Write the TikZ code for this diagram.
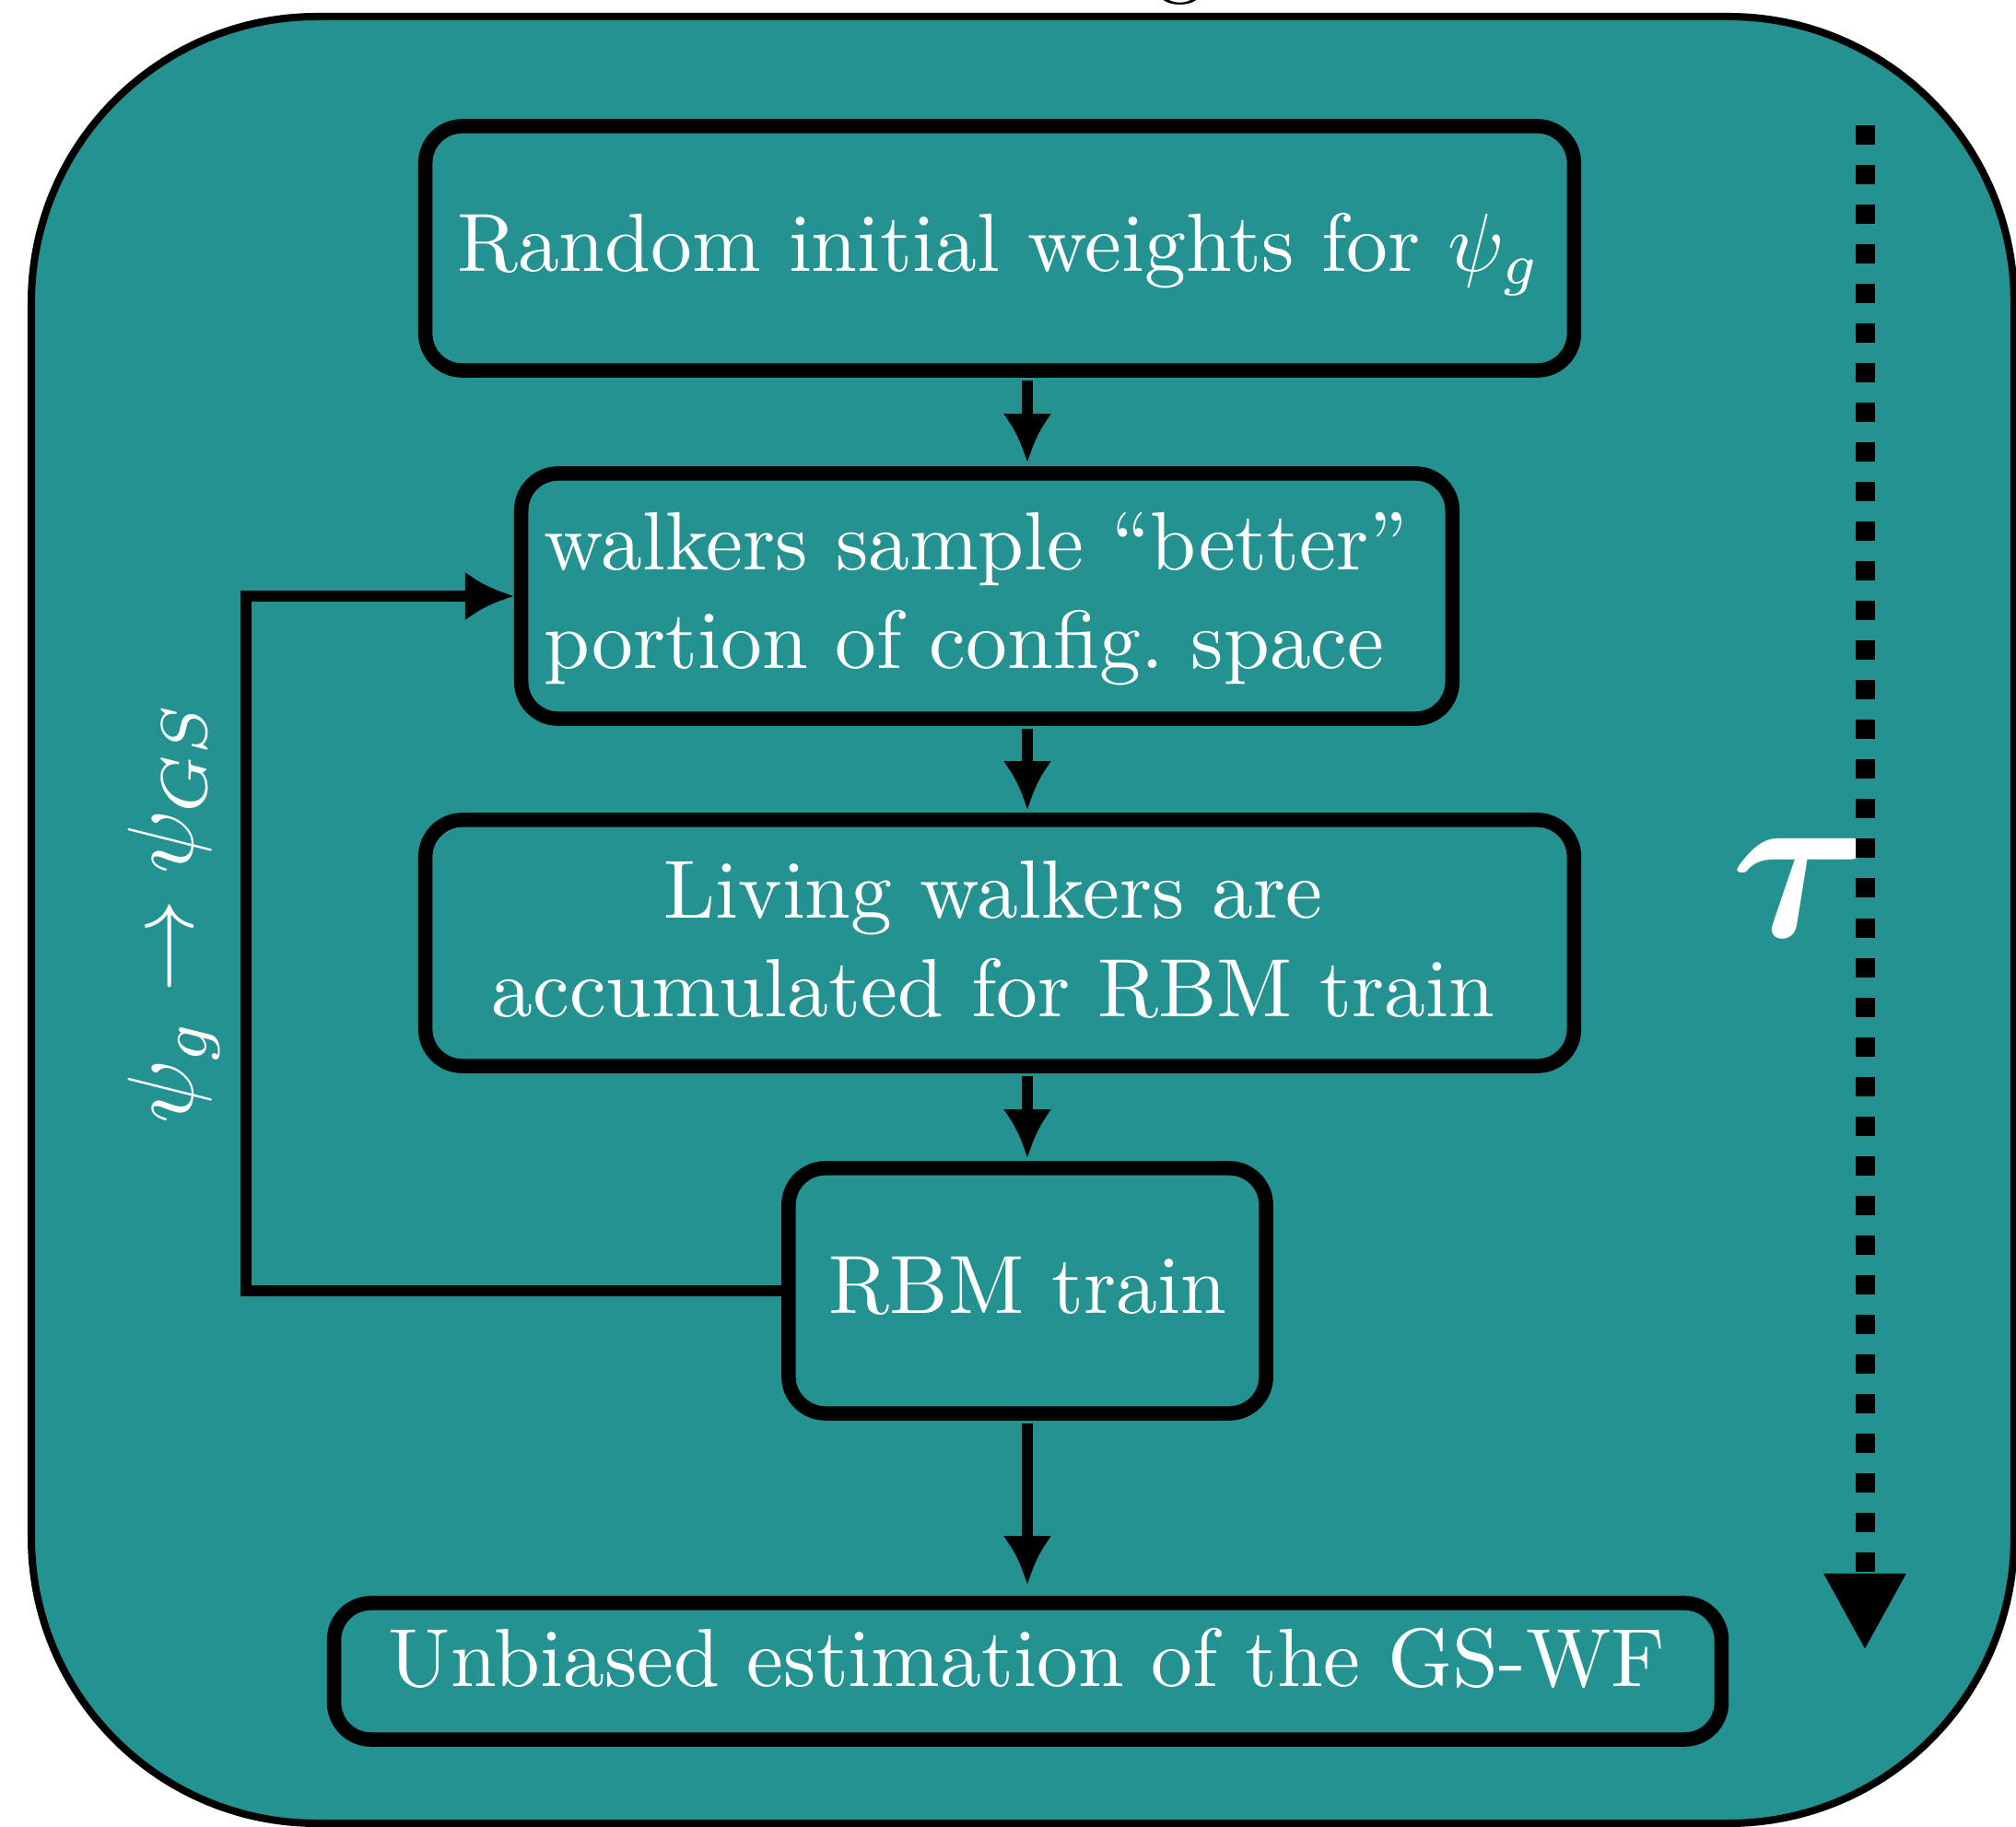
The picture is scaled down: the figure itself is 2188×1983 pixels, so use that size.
\RequirePackage{fix-cm}
\documentclass[tikz,border=0pt]{standalone}
\usepackage{amsmath}
\usepackage{bm}
\usetikzlibrary{arrows.meta}
\definecolor{tealbg}{RGB}{36,146,144}
\begin{document}
\begin{tikzpicture}[x=0.01cm,y=-0.01cm,
  stepbox/.style={draw=black, line width=0.155cm, rounded corners=0.4cm, fill=tealbg, inner sep=0pt},
  lbl/.style={text=white, font=\fontsize{10}{12}\selectfont, inner sep=0pt, scale=2.55},
  flow/.style={draw=black, line width=0.12cm, -{Latex[length=0.53cm,width=0.53cm]}},
]
\useasboundingbox (0,0) rectangle (2188,1983);
\node[text=black, font=\fontsize{10}{12}\selectfont, scale=2.9, anchor=base, inner sep=0pt] (titlefrag) at (1281,-15) {g};
\draw[line width=0.08cm, fill=tealbg, rounded corners=3.1cm] (34,18) rectangle (2186,1979);

\node[stepbox, minimum width=12.46cm, minimum height=2.65cm] (b1) at (1085,269.5) {};
\node[stepbox, minimum width=10.10cm, minimum height=2.66cm] (b2) at (1071,647) {};
\node[stepbox, minimum width=12.46cm, minimum height=2.67cm] (b3) at (1085,1023.5) {};
\node[stepbox, minimum width=5.18cm, minimum height=2.66cm] (b4) at (1115,1401) {};
\node[stepbox, minimum width=15.05cm, minimum height=1.48cm] (b5) at (1115.5,1814) {};

\node[lbl, anchor=base] (t1) at (1084,295) {Random initial weights for $\psi_g$};
\node[lbl, align=left] (t2) at (1059,650) {walkers sample “better”\\portion of config.\ space};
\node[lbl, align=center] (t3) at (1078,1020) {Living walkers are\\accumulated for RBM train};
\node[lbl, anchor=base] (t4) at (1115.5,1425) {RBM train};
\node[lbl, anchor=base] (t5) at (1114.5,1830) {Unbiased estimation of the GS-WF};

\node[text=white, rotate=90, font=\fontsize{10}{12}\selectfont, scale=2.88, inner sep=0pt] (psilbl) at (189,990) {$\psi_g \rightarrow \psi_{GS}$};
\node[text=white, font=\fontsize{68}{70}\selectfont, inner sep=0pt] (tau) at (1957,963) {$\bm{\tau}$};

\draw[flow, shorten <=0.03cm, shorten >=0.04cm] (b1.south -| b4.center) -- (b2.north -| b4.center);
\draw[flow, shorten <=0.03cm, shorten >=0.03cm] (b2.south -| b4.center) -- (b3.north -| b4.center);
\draw[flow, shorten <=0.03cm, shorten >=0.03cm] (b3.south -| b4.center) -- (b4.north);
\draw[flow, shorten <=0.03cm, shorten >=0.12cm] (b4.south) -- (b5.north -| b4.center);

\coordinate (loopc) at (267,1401);
\draw[flow] (b4.west) -- (loopc) |- (b2.west);

\coordinate (ttop) at (2024,136);
\coordinate (tbot) at (2024,1791);
\draw[line width=0.21cm, dash pattern=on 0.21cm off 0.22cm, -{Triangle[length=0.83cm,width=0.83cm]}] (ttop) -- (tbot);
\end{tikzpicture}
\end{document}
